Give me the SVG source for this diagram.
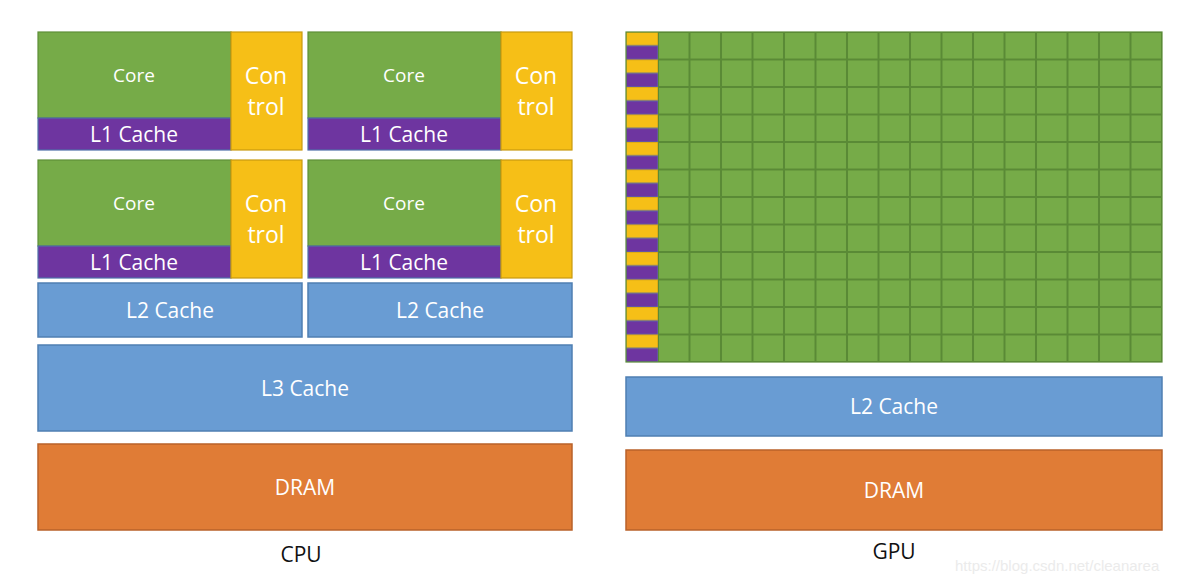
<svg xmlns="http://www.w3.org/2000/svg" width="1180" height="583" viewBox="0 0 1180 583">
<style>
.core{fill:#76AB48;stroke:#5E8F37;stroke-width:1.2}
.ctl{fill:#F6BF17;stroke:#C99A10;stroke-width:1.2}
.l1{fill:#6E35A0;stroke:#4F6FA8;stroke-width:1.2}
.blue{fill:#699CD3;stroke:#4F7FB2;stroke-width:1.5}
.org{fill:#E07C36;stroke:#B9622A;stroke-width:1.5}
text{font-family:"Open Sans","Liberation Sans",sans-serif;text-anchor:middle;fill:#fff}
.s18{font-size:19px}
.s22{font-size:21px}
.s24{font-size:23px}
.lab{fill:#111;font-size:21px}
.wm{fill:#ebebeb;font-size:15px;font-family:"Liberation Sans",sans-serif;text-anchor:start}
</style>
<defs>
<pattern id="stripes" x="626" y="32" width="32" height="27.5" patternUnits="userSpaceOnUse">
<rect x="0" y="0" width="32" height="13.75" fill="#F6BF17" stroke="#C99A10" stroke-width="1"/>
<rect x="0" y="13.75" width="32" height="13.75" fill="#6E35A0" stroke="#5B72A8" stroke-width="1"/>
</pattern>
<pattern id="grid" x="658" y="32" width="31.5" height="27.5" patternUnits="userSpaceOnUse">
<rect x="0" y="0" width="31.5" height="27.5" fill="#76AB48" stroke="#5A8A36" stroke-width="2"/>
</pattern>
</defs>
<rect width="1180" height="583" fill="#fff"/>
<g id="cpu">
<g id="cpu-core-1">
<rect class="core" x="38" y="32" width="193" height="86"/>
<rect class="l1" x="38" y="118" width="193" height="32"/>
<rect class="ctl" x="231" y="32" width="71" height="118"/>
<text class="s18" x="134" y="82">Core</text>
<text class="s22" x="134" y="142">L1 Cache</text>
<text class="s24" x="266" y="84">Con</text>
<text class="s24" x="266" y="115">trol</text>
</g>
<g id="cpu-core-2">
<rect class="core" x="308" y="32" width="193" height="86"/>
<rect class="l1" x="308" y="118" width="193" height="32"/>
<rect class="ctl" x="501" y="32" width="71" height="118"/>
<text class="s18" x="404" y="82">Core</text>
<text class="s22" x="404" y="142">L1 Cache</text>
<text class="s24" x="536" y="84">Con</text>
<text class="s24" x="536" y="115">trol</text>
</g>
<g id="cpu-core-3">
<rect class="core" x="38" y="160" width="193" height="86"/>
<rect class="l1" x="38" y="246" width="193" height="32"/>
<rect class="ctl" x="231" y="160" width="71" height="118"/>
<text class="s18" x="134" y="210">Core</text>
<text class="s22" x="134" y="270">L1 Cache</text>
<text class="s24" x="266" y="212">Con</text>
<text class="s24" x="266" y="243">trol</text>
</g>
<g id="cpu-core-4">
<rect class="core" x="308" y="160" width="193" height="86"/>
<rect class="l1" x="308" y="246" width="193" height="32"/>
<rect class="ctl" x="501" y="160" width="71" height="118"/>
<text class="s18" x="404" y="210">Core</text>
<text class="s22" x="404" y="270">L1 Cache</text>
<text class="s24" x="536" y="212">Con</text>
<text class="s24" x="536" y="243">trol</text>
</g>
<g id="cpu-l2-a">
<rect class="blue" x="38" y="283" width="264" height="54"/>
<text class="s22" x="170" y="318">L2 Cache</text>
</g>
<g id="cpu-l2-b">
<rect class="blue" x="308" y="283" width="264" height="54"/>
<text class="s22" x="440" y="318">L2 Cache</text>
</g>
<g id="cpu-l3">
<rect class="blue" x="38" y="345" width="534" height="86"/>
<text class="s22" x="305" y="396">L3 Cache</text>
</g>
<g id="cpu-dram">
<rect class="org" x="38" y="444" width="534" height="86"/>
<text class="s22" x="305" y="495">DRAM</text>
</g>
<text class="lab" x="301" y="562">CPU</text>
</g>
<g id="gpu">
<g id="gpu-cores">
<rect x="626" y="32" width="32" height="330" fill="url(#stripes)"/>
<rect x="658" y="32" width="504" height="330" fill="url(#grid)"/>
<rect x="626" y="32" width="536" height="330" fill="none" stroke="#5A8A36" stroke-width="1.2"/>
</g>
<g id="gpu-l2">
<rect class="blue" x="626" y="377" width="536" height="59"/>
<text class="s22" x="894" y="414">L2 Cache</text>
</g>
<g id="gpu-dram">
<rect class="org" x="626" y="450" width="536" height="80"/>
<text class="s22" x="894" y="498">DRAM</text>
</g>
<text class="lab" x="894" y="559">GPU</text>
</g>
<g id="connectors"/>
<text class="wm" x="955" y="571">https://blog.csdn.net/cleanarea</text>
</svg>
